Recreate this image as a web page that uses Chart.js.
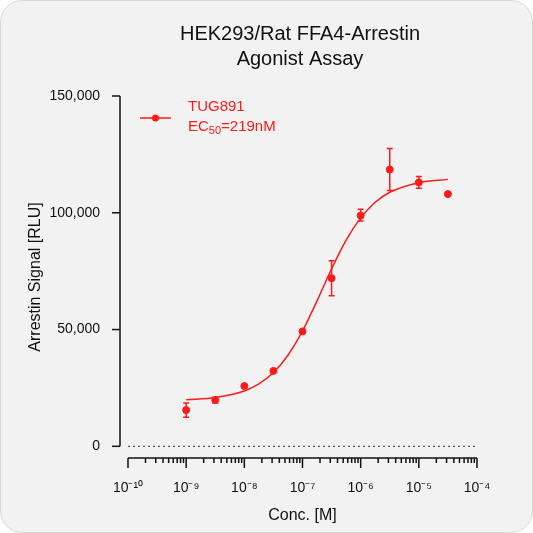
<!DOCTYPE html>
<html><head><meta charset="utf-8">
<script src="https://cdn.jsdelivr.net/npm/chart.js@4"></script>
<style>
html,body{margin:0;padding:0;background:#fff;}
#card{position:absolute;left:0;top:0;width:531px;height:531px;background:#f2f2f2;border:1px solid #d9d9d9;border-radius:22px;}
canvas{position:absolute;left:0;top:0;}
</style></head><body>
<div id="card"></div>
<canvas id="c" width="533" height="533"></canvas>
<script>
const logConc = [-9, -8.5, -8, -7.5, -7, -6.5, -6, -5.5, -5, -4.5];
const signal = [15500, 19800, 25800, 32300, 49200, 72000, 98800, 118500, 113000, 108000];
const errLow = [12500, 18600, 25800, 32300, 49200, 64500, 96500, 109500, 110500, 108000];
const errHigh = [18500, 21000, 25800, 32300, 49200, 79500, 101500, 127500, 115500, 108000];
const fitX = [-9, -8.5, -8, -7.75, -7.5, -7.25, -7, -6.75, -6.5, -6.25, -6, -5.75, -5.5, -5, -4.5];
const fitY = [19900, 20900, 23700, 26700, 31600, 39000, 49400, 62300, 76000, 88300, 97800, 104500, 108800, 112900, 114300];
const yTicks = [0, 50000, 100000, 150000];
const xTickExp = ['-10','-9','-8','-7','-6','-5','-4'];
const RED = '#ff1a1a';
const sup = {'-':'\u207B','0':'\u2070','1':'\u00B9','2':'\u00B2','3':'\u00B3','4':'\u2074','5':'\u2075','6':'\u2076','7':'\u2077','8':'\u2078','9':'\u2079'};

const deco = {
  id:'deco',
  afterDraw(ch){
    const c = ch.ctx, x = ch.scales.x, y = ch.scales.y, a = ch.chartArea;
    c.save();
    c.strokeStyle = '#111'; c.lineWidth = 1.5;
    // y axis
    const yx = a.left - 8;
    c.beginPath(); c.moveTo(yx, y.getPixelForValue(150000)); c.lineTo(yx, y.getPixelForValue(0)); c.stroke();
    yTicks.forEach(v=>{const p=y.getPixelForValue(v); c.beginPath(); c.moveTo(yx-8,p); c.lineTo(yx,p); c.stroke();});
    // x axis
    const xb = a.bottom;
    c.beginPath(); c.moveTo(x.getPixelForValue(-10), xb); c.lineTo(x.getPixelForValue(-4), xb); c.stroke();
    for (let n=-10;n<=-4;n++){
      let p=x.getPixelForValue(n); c.beginPath(); c.moveTo(p,xb); c.lineTo(p,xb+10); c.stroke();
      if(n<-4) for(let k=2;k<=9;k++){p=x.getPixelForValue(n+Math.log10(k)); c.beginPath(); c.moveTo(p,xb); c.lineTo(p,xb+5); c.stroke();}
    }
    // zero dotted line
    c.lineWidth=1; c.setLineDash([2,3]); c.strokeStyle='#333';
    const z=y.getPixelForValue(0);
    c.beginPath(); c.moveTo(a.left,z); c.lineTo(a.right,z); c.stroke();
    c.setLineDash([]);
    // error bars
    c.strokeStyle=RED; c.lineWidth=1.5;
    logConc.forEach((v,i)=>{
      if(errHigh[i]===errLow[i]) return;
      const px=x.getPixelForValue(v), p1=y.getPixelForValue(errLow[i]), p2=y.getPixelForValue(errHigh[i]);
      c.beginPath(); c.moveTo(px,p1); c.lineTo(px,p2);
      c.moveTo(px-3,p1); c.lineTo(px+3,p1); c.moveTo(px-3,p2); c.lineTo(px+3,p2); c.stroke();
    });
    // title
    c.fillStyle='#111'; c.font='20px Arial, "Liberation Sans", sans-serif'; c.textAlign='center'; c.textBaseline='middle';
    c.fillText('HEK293/Rat FFA4-Arrestin', 300, 34);
    c.fillText('Agonist Assay', 300, 59);
    // legend
    c.strokeStyle=RED; c.lineWidth=1.5;
    c.beginPath(); c.moveTo(140,118); c.lineTo(171,118); c.stroke();
    c.fillStyle=RED; c.beginPath(); c.arc(155.5,118,3.5,0,Math.PI*2); c.fill();
    c.textAlign='left'; c.font='15px Arial, "Liberation Sans", sans-serif';
    c.fillText('TUG891', 188, 107);
    c.fillText('EC', 188, 127);
    let w=c.measureText('EC').width;
    c.font='11px Arial, "Liberation Sans", sans-serif'; c.fillText('50',188+w,131);
    let w2=c.measureText('50').width;
    c.font='15px Arial, "Liberation Sans", sans-serif'; c.fillText('=219nM',188+w+w2,127);
    c.restore();
  }
};

new Chart(document.getElementById('c'), {
  data:{datasets:[
    {type:'scatter', data:logConc.map((v,i)=>({x:v,y:signal[i]})), backgroundColor:RED, borderColor:RED, pointRadius:3.5, pointHoverRadius:3.5},
    {type:'line', data:fitX.map((v,i)=>({x:v,y:fitY[i]})), borderColor:RED, borderWidth:1.5, pointRadius:0, cubicInterpolationMode:'monotone', fill:false}
  ]},
  options:{
    responsive:false, animation:false, devicePixelRatio:1,
    layout:{padding:{left:22,right:56,top:96,bottom:4}},
    plugins:{legend:{display:false}, tooltip:{enabled:false}},
    scales:{
      x:{type:'linear', min:-10, max:-4, grid:{display:false}, border:{display:false},
        afterBuildTicks(s){s.ticks=xTickExp.map(e=>({value:+e}));},
        ticks:{padding:14, color:'#111', font:{size:14, family:'Arial, "Liberation Sans"'},
          callback:(v)=>'10'+String(v).split('').map(ch=>sup[ch]).join('')},
        title:{display:true, text:'Conc. [M]', color:'#111', font:{size:16, family:'Arial, "Liberation Sans"'}, padding:{top:0}},
        afterFit(s){s.height=71;}},
      y:{min:-5000, max:150000, grid:{display:false}, border:{display:false},
        afterBuildTicks(s){s.ticks=yTicks.map(v=>({value:v}));},
        ticks:{padding:20, color:'#111', font:{size:14, family:'Arial, "Liberation Sans"'}},
        title:{display:true, text:'Arrestin Signal [RLU]', color:'#111', font:{size:16, family:'Arial, "Liberation Sans"'}},
        afterFit(s){s.width=106;}}
    }
  },
  plugins:[deco]
});
</script></body></html>
